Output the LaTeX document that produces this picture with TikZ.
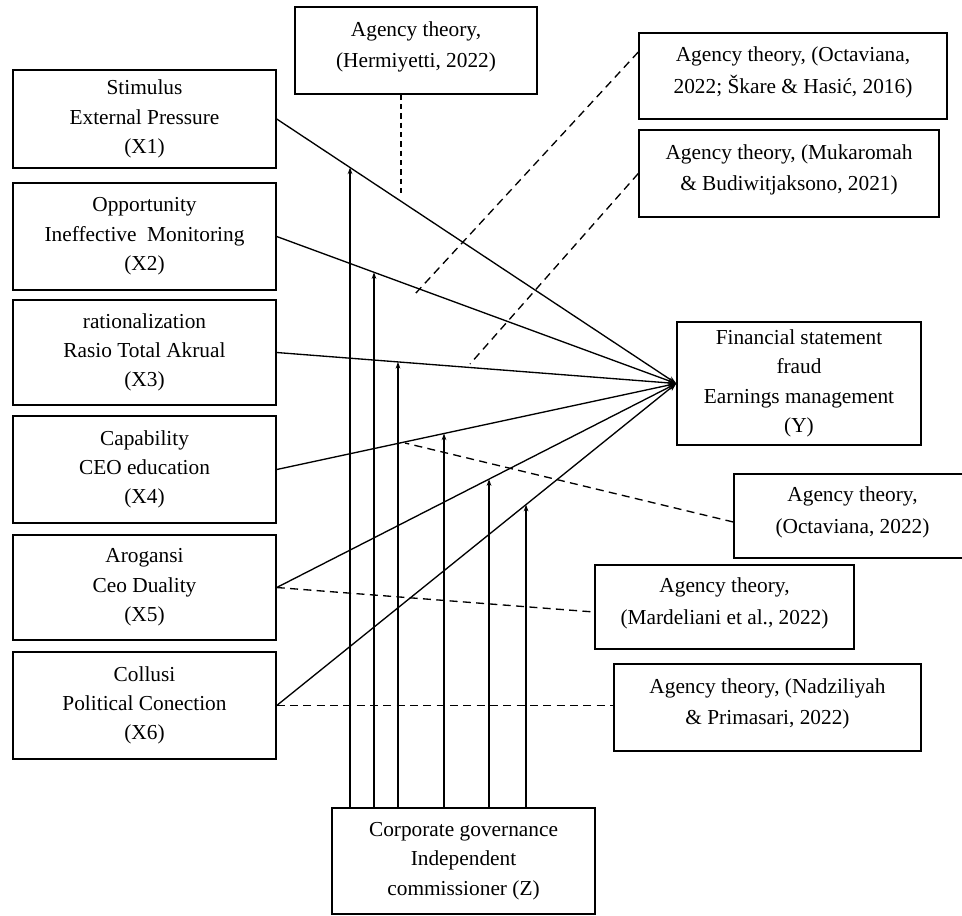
\documentclass[tikz,border=0pt]{standalone}
\usepackage{fontspec}
\setmainfont{Liberation Serif}
\usepackage{tikz}
\usetikzlibrary{arrows.meta, positioning, calc}
\tikzset{
	varbox/.style={draw, line width=1.1pt, minimum width=197.25pt, minimum height=#1, align=center, inner sep=2pt, font=\fontsize{16}{22}\selectfont},
	varbox/.default=79pt,
	refbox/.style={draw, line width=1.1pt, align=center, inner sep=2pt, text depth=9pt, font=\fontsize{16}{23.5}\selectfont},
	patharr/.style={-{Stealth[length=6pt, width=4.5pt]}, line width=1pt},
	modarr/.style={-{Stealth[length=5pt, width=3.5pt]}, line width=1pt},
	theoryline/.style={line width=1pt, dash pattern=on 6pt off 4pt},
}

\begin{document}
\begin{tikzpicture}[x=0.75pt, y=-0.75pt, >=Stealth]
	\useasboundingbox (0,0) rectangle (962,915);
	% predictors
	\node[varbox=73.5pt] (x1) at (144.5,119) {Stimulus\\External Pressure\\(X1)};
	\node[varbox=80.25pt] (x2) at (144.5,236.5) {Opportunity\\Ineffective\ \ Monitoring\\(X2)};
	\node[varbox=78.75pt] (x3) at (144.5,352.5) {rationalization\\Rasio Total Akrual\\(X3)};
	\node[varbox=80.25pt] (x4) at (144.5,469.5) {Capability\\CEO education\\(X4)};
	\node[varbox=78.75pt] (x5) at (144.5,587.5) {Arogansi\\Ceo Duality\\(X5)};
	\node[varbox=80.25pt] (x6) at (144.5,705.5) {Collusi\\Political Conection\\(X6)};
	% outcome and moderator
	\node[varbox=92.25pt, minimum width=183pt] (y) at (799,383.5) {Financial statement\\fraud\\Earnings management\\(Y)};
	\node[varbox=79.5pt] (z) at (463.5,861) {Corporate governance\\Independent\\commissioner (Z)};
	% theory boxes
	\node[refbox, minimum width=181.5pt, minimum height=65.25pt] (h) at (416,50.5) {Agency theory,\\(Hermiyetti, 2022)};
	\node[refbox, minimum width=231pt, minimum height=64.5pt] (o1) at (793,76) {Agency theory, (Octaviana,\\2022; Škare \& Hasić, 2016)};
	\node[refbox, minimum width=225pt, minimum height=65.25pt] (mu) at (789,173.5) {Agency theory, (Mukaromah\\\& Budiwitjaksono, 2021)};
	\node[refbox, minimum width=177.75pt, minimum height=63pt] (o2) at (852.5,516) {Agency theory,\\(Octaviana, 2022)};
	\node[refbox, minimum width=194.25pt, minimum height=63pt] (ma) at (724.5,607) {Agency theory,\\(Mardeliani et al., 2022)};
	\node[refbox, minimum width=230.25pt, minimum height=65.25pt] (na) at (767.5,707.5) {Agency theory, (Nadziliyah\\\& Primasari, 2022)};
	% paths to Y
	\foreach \v in {x1,x2,x3,x4,x5,x6}
		\draw[patharr] (\v.east) -- (y.west);
	% moderating arrows
	\foreach \v/\px [count=\i] in {x1/350,x2/374,x3/398,x4/444,x5/489,x6/526} {
		\coordinate (m\i) at (intersection of \v.east--y.west and \px,0--\px,900);
		\draw[modarr] (z.north -| m\i) -- (m\i);
	}
	% theory links
	\coordinate (he) at (401,196);
	\coordinate (o1e) at (415,294);
	\coordinate (mue) at (470,364);
	\coordinate (o2e) at (405,443);
	\draw[theoryline, dash pattern=on 4pt off 3pt] ([xshift=-11.25pt]h.south) -- (he);
	\draw[theoryline] ([yshift=18pt]o1.west) -- (o1e);
	\draw[theoryline] (mu.west) -- (mue);
	\draw[theoryline] ([yshift=-4.5pt]o2.west) -- (o2e);
	\draw[theoryline] (x5.east) -- ([yshift=-3.75pt]ma.west);
	\draw[theoryline] (x6.east) -- (x6.east -| na.west);
\end{tikzpicture}
\end{document}
